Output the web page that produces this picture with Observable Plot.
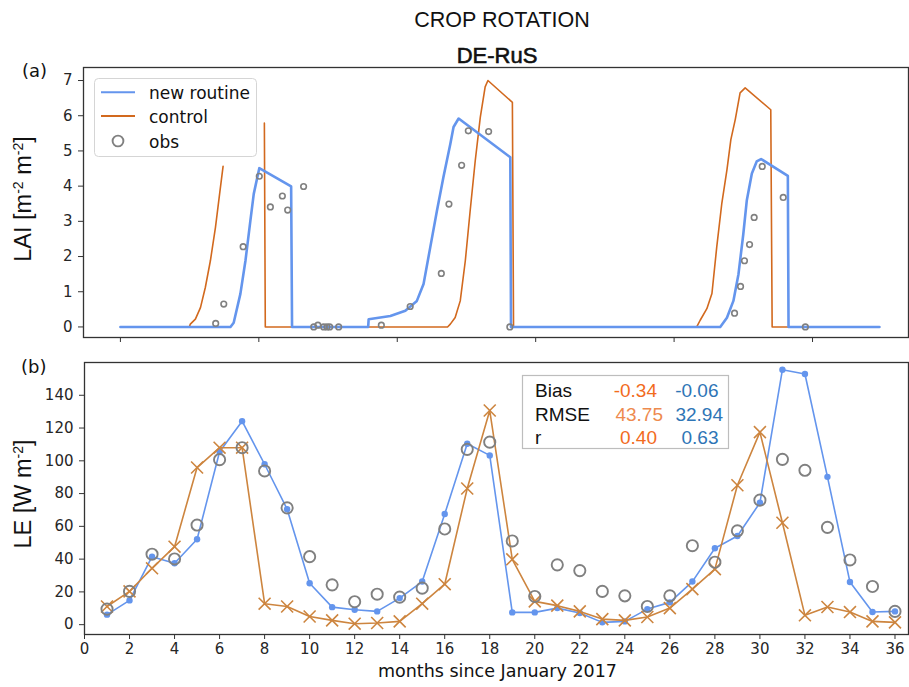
<!DOCTYPE html>
<html>
<head>
<meta charset="utf-8">
<script src="https://cdn.jsdelivr.net/npm/d3@7"></script>
<script src="https://cdn.jsdelivr.net/npm/@observablehq/plot@0.6"></script>
<style>
  body { margin: 0; background: #fff; }
  #wrap { position: relative; width: 909px; height: 687px; overflow: hidden; background: #fff; }
  #wrap svg { position: absolute; left: 0; }
</style>
</head>
<body>
<div id="wrap"></div>
<script>
// ---------- Panel (a): LAI (x = months since January 2017) ----------
const newRoutineMonth = [0, 4.77, 4.91, 5.2, 5.42, 5.63, 5.78, 6.02, 7.4, 7.44, 10.74, 10.76, 11.7, 12.35, 12.85, 13.14, 13.43, 13.72, 14.0, 14.3, 14.44, 14.66, 16.9, 16.93, 26.0, 26.29, 26.57, 26.79, 27.0, 27.15, 27.37, 27.58, 27.77, 28.93, 28.96, 32.9];
const newRoutineLAI   = [0, 0, 0.12, 0.94, 1.88, 3.0, 3.78, 4.51, 3.99, 0, 0, 0.22, 0.31, 0.46, 0.74, 1.22, 2.26, 3.3, 4.25, 5.2, 5.68, 5.92, 4.82, 0, 0, 0.26, 0.74, 1.5, 2.64, 3.59, 4.36, 4.7, 4.77, 4.29, 0, 0];

const controlMonth = [2.99, 3.03, 3.25, 3.47, 3.68, 3.9, 4.12, 4.3, 4.45, 4.46, 6.24, 6.28, 14.18, 14.3, 14.51, 14.73, 14.95, 15.16, 15.38, 15.6, 15.81, 15.93, 16.99, 17.04, 24.98, 25.13, 25.42, 25.64, 25.85, 26.07, 26.29, 26.46, 26.65, 26.86, 27.08, 28.19, 28.25, 32.9];
const controlLAI   = [0, 0.08, 0.22, 0.55, 1.12, 1.88, 2.83, 3.78, 4.56, null, 5.79, 0, 0, 0.08, 0.27, 0.74, 1.88, 3.3, 4.72, 5.96, 6.82, 7.0, 6.38, 0, 0, 0.19, 0.52, 0.95, 2.28, 3.52, 4.46, 5.32, 5.89, 6.65, 6.79, 6.17, 0, 0];

const obsLAIMonth = [4.13, 4.48, 5.32, 6.02, 6.5, 7.02, 7.25, 7.94, 8.38, 8.56, 8.81, 8.95, 9.07, 9.46, 11.31, 12.56, 13.91, 14.24, 14.79, 15.08, 15.96, 16.88, 26.62, 26.88, 27.05, 27.27, 27.47, 27.82, 28.73, 29.69];
const obsLAI      = [0.1, 0.65, 2.28, 4.28, 3.41, 3.72, 3.32, 3.99, 0, 0.05, 0, 0, 0, 0, 0.05, 0.58, 1.52, 3.49, 4.59, 5.57, 5.55, 0, 0.39, 1.15, 1.88, 2.34, 3.11, 4.56, 3.68, 0];

const laiTicks = [0, 1, 2, 3, 4, 5, 6, 7];
const laiDateTicks = [0, 6, 12, 18, 24, 30];

// ---------- Panel (b): LE monthly ----------
const months = [1,2,3,4,5,6,7,8,9,10,11,12,13,14,15,16,17,18,19,20,21,22,23,24,25,26,27,28,29,30,31,32,33,34,35,36];
const leNew     = [6.1, 14.8, 41.5, 37.5, 52.1, 105.5, 124.2, 97.9, 70.5, 25.3, 10.7, 9.1, 8.1, 16.2, 26.3, 67.5, 110.4, 103.3, 7.5, 7.5, 10.1, 7.1, 1.4, 2.0, 9.5, 13.6, 26.3, 46.6, 54.1, 74.4, 155.6, 153, 90.2, 26, 7.7, 8.1];
const leControl = [11.1, 20.3, 34.4, 47.6, 95.9, 108, 108, 12.8, 11.1, 5.0, 2.6, 0.6, 1.0, 2.0, 12.8, 24.7, 83.1, 130.7, 39.9, 14.2, 11.6, 8.1, 3.4, 2.6, 4.7, 10.1, 21.7, 33.9, 85.1, 117.5, 62.2, 5.7, 10.8, 7.7, 2.0, 1.4];
const leObs     = [9.5, 20.3, 43, 40.1, 60.8, 100.7, 108, 93.8, 71.3, 41.5, 24.3, 14, 18.6, 16.8, 22.3, 58.4, 107, 111.4, 51.1, 17.2, 36.5, 33, 20.3, 17.6, 11.1, 17.6, 48.2, 38.1, 57.3, 76, 100.9, 94.2, 59.4, 39.5, 23.3, 8.1];

const leTicks = [0, 20, 40, 60, 80, 100, 120, 140];
const monthTicks = [0,2,4,6,8,10,12,14,16,18,20,22,24,26,28,30,32,34,36];

// statistics table
const statNames   = ["Bias", "RMSE", "r"];
const statControl = ["-0.34", "43.75", "0.40"];
const statNew     = ["-0.06", "32.94", "0.63"];

const BLUE = "cornflowerblue", ORANGE_A = "chocolate", ORANGE_B = "peru", GREY = "grey";

const newRoutineData = newRoutineMonth.map((m, i) => ({m, v: newRoutineLAI[i]}));
const controlData = controlMonth.map((m, i) => ({m, v: controlLAI[i]}));
const obsLAIData = obsLAIMonth.map((m, i) => ({m, v: obsLAI[i]}));
const leData = months.map((m, i) => ({m, nw: leNew[i], ct: leControl[i], ob: leObs[i]}));

const axisStyle = {fontFamily: "'DejaVu Sans', sans-serif", fontSize: "15px", color: "#262626", background: "transparent", overflow: "visible"};

const plotA = Plot.plot({
  width: 909, height: 345,
  marginTop: 67, marginBottom: 8, marginLeft: 83, marginRight: 1,
  style: axisStyle,
  x: {domain: [-1.6, 34.16]},
  y: {domain: [-0.3, 7.37]},
  marks: [
    Plot.axisY({ticks: laiTicks, tickSize: 5, tickPadding: 6, label: null, fontSize: 15, stroke: "#333", fill: "#262626"}),
    Plot.axisX({ticks: laiDateTicks, tickSize: 5, tickFormat: () => "", label: null, stroke: "#333"}),
    Plot.line(controlData, {x: "m", y: "v", stroke: ORANGE_A, strokeWidth: 1.6}),
    Plot.line(newRoutineData, {x: "m", y: "v", stroke: BLUE, strokeWidth: 2.6}),
    Plot.dot(obsLAIData, {x: "m", y: "v", r: 2.8, stroke: GREY, strokeWidth: 1.6, fill: "none"}),
    Plot.frame({stroke: "#333", strokeWidth: 1.3})
  ]
});
plotA.style.top = "0px";

const plotB = Plot.plot({
  width: 909, height: 342,
  marginTop: 17, marginBottom: 53, marginLeft: 84, marginRight: 1,
  style: axisStyle,
  x: {domain: [0, 36.6]},
  y: {domain: [-6, 160]},
  marks: [
    Plot.axisY({ticks: leTicks, tickSize: 5, tickPadding: 6, label: null, fontSize: 15, stroke: "#333", fill: "#262626"}),
    Plot.axisX({ticks: monthTicks, tickSize: 5, tickPadding: 4, label: null, fontSize: 15, stroke: "#333", fill: "#262626"}),
    Plot.line(leData, {x: "m", y: "nw", stroke: BLUE, strokeWidth: 1.6}),
    Plot.dot(leData, {x: "m", y: "nw", r: 3.2, fill: BLUE}),
    Plot.line(leData, {x: "m", y: "ct", stroke: ORANGE_B, strokeWidth: 1.6}),
    Plot.dot(leData, {x: "m", y: "ct", symbol: "times", r: 5.5, stroke: ORANGE_B, strokeWidth: 1.6}),
    Plot.dot(leData, {x: "m", y: "ob", r: 5.6, stroke: GREY, strokeWidth: 1.9, fill: "none"}),
    Plot.frame({stroke: "#333", strokeWidth: 1.3})
  ]
});
plotB.style.top = "345px";

const wrap = document.getElementById("wrap");
wrap.appendChild(plotA);
wrap.appendChild(plotB);

// ---------- overlay: titles, labels, legend, stats ----------
const ov = d3.create("svg").attr("width", 909).attr("height", 687).style("top", "0px")
  .style("font-family", "'Liberation Sans', Arial, sans-serif");

ov.append("text").attr("x", 502).attr("y", 27).attr("text-anchor", "middle")
  .style("font-size", "21.5px").attr("fill", "#111").text("CROP ROTATION");
ov.append("text").attr("x", 497).attr("y", 63).attr("text-anchor", "middle")
  .style("font-size", "22px").attr("fill", "#111").attr("stroke", "#111").attr("stroke-width", 0.6).text("DE-RuS");

ov.append("text").attr("x", 22).attr("y", 77).style("font-family", "'DejaVu Sans', sans-serif")
  .style("font-size", "18px").attr("fill", "#111").text("(a)");
ov.append("text").attr("x", 21).attr("y", 373).style("font-family", "'DejaVu Sans', sans-serif")
  .style("font-size", "18px").attr("fill", "#111").text("(b)");

// y labels with superscripts
function yLabel(cy, parts) {
  const t = ov.append("text").attr("transform", `translate(31,${cy}) rotate(-90)`)
    .attr("text-anchor", "middle").style("font-size", "23.5px").attr("fill", "#111");
  for (const [s, sup] of parts) {
    const ts = t.append("tspan").text(s);
    if (sup) ts.attr("baseline-shift", "super").style("font-size", "14px");
  }
}
yLabel(199, [["LAI [m", false], ["-2", true], [" m", false], ["-2", true], ["]", false]]);
yLabel(494, [["LE [W m", false], ["-2", true], ["]", false]]);

ov.append("text").attr("x", 497.5).attr("y", 677).attr("text-anchor", "middle")
  .style("font-family", "'DejaVu Sans', sans-serif").style("font-size", "17.5px").attr("fill", "#111")
  .text("months since January 2017");

// legend
const lg = ov.append("g");
lg.append("rect").attr("x", 94.5).attr("y", 78.5).attr("width", 162).attr("height", 78).attr("rx", 4)
  .attr("fill", "white").attr("fill-opacity", 0.8).attr("stroke", "#d5d5d5");
const legendItems = [["new routine", BLUE, "line", 92.3], ["control", ORANGE_A, "line", 116], ["obs", GREY, "circle", 141]];
for (const [name, col, kind, cy] of legendItems) {
  if (kind === "line") lg.append("line").attr("x1", 101).attr("x2", 135).attr("y1", cy).attr("y2", cy).attr("stroke", col).attr("stroke-width", 2);
  else lg.append("circle").attr("cx", 118).attr("cy", cy).attr("r", 5.4).attr("fill", "none").attr("stroke", col).attr("stroke-width", 1.9);
  lg.append("text").attr("x", 149).attr("y", cy + 6.5).style("font-family", "'DejaVu Sans', sans-serif")
    .style("font-size", "17px").attr("fill", "#111").text(name);
}

// statistics box
const sb = ov.append("g");
sb.append("rect").attr("x", 522.5).attr("y", 375.5).attr("width", 206).attr("height", 73)
  .attr("fill", "white").attr("stroke", "#bdbdbd").attr("stroke-width", 1.2);
const baselines = [397, 420.5, 444];
const ctrlRight = [657, 663, 657];
const newRight = [718.5, 723, 718.5];
const ctrlCols = ["#f26b1d", "#ee8a4e", "#f26b1d"];
statNames.forEach((n, i) => {
  sb.append("text").attr("x", 535).attr("y", baselines[i]).style("font-size", "19px").attr("fill", "#111").text(n);
  sb.append("text").attr("x", ctrlRight[i]).attr("y", baselines[i]).attr("text-anchor", "end")
    .style("font-size", "19px").attr("fill", ctrlCols[i]).text(statControl[i]);
  sb.append("text").attr("x", newRight[i]).attr("y", baselines[i]).attr("text-anchor", "end")
    .style("font-size", "19px").attr("fill", "#2e75b6").text(statNew[i]);
});

wrap.appendChild(ov.node());
</script>
</body>
</html>
